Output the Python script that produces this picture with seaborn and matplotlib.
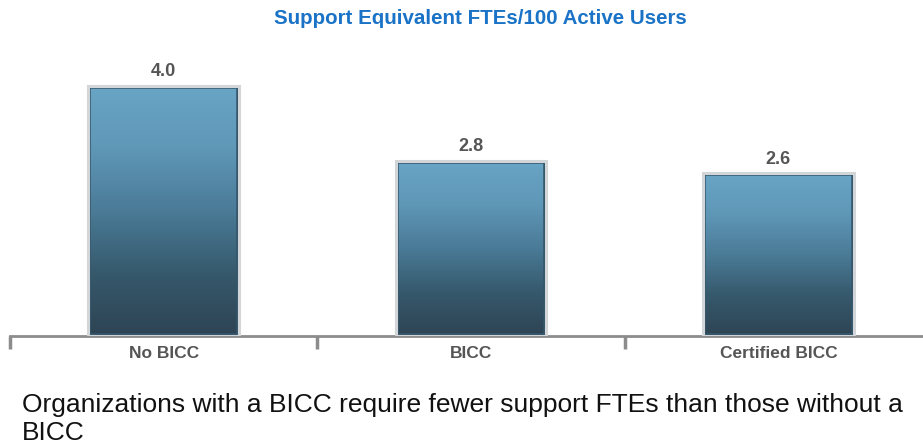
import numpy as np
import pandas as pd
import matplotlib
matplotlib.use("Agg")
import matplotlib.pyplot as plt
from matplotlib.colors import LinearSegmentedColormap
from matplotlib.patches import Rectangle
import seaborn as sns

# chart data
categories = ["No BICC", "BICC", "Certified BICC"]
ftes_per_100 = [4.0, 2.8, 2.6]
title = "Support Equivalent FTEs/100 Active Users"
caption_lines = ["Organizations with a BICC require fewer support FTEs than those without a",
                 "BICC"]

sns.set_style("white")
plt.rcParams['font.family'] = ['Liberation Sans', 'DejaVu Sans']

df = pd.DataFrame({"group": categories, "ftes": ftes_per_100})

fig = plt.figure(figsize=(9.23, 4.47), dpi=100)
ax = fig.add_axes([10 / 923, 111 / 447, 922 / 923, 288 / 447])

sns.barplot(data=df, x="group", y="ftes", order=categories, color="#4d7f9a",
            width=0.49, ax=ax, zorder=3)

# vertical blue gradient in each bar, light frame with a thin dark rim inside
grad = LinearSegmentedColormap.from_list(
    "bargrad", ["#2e4454", "#36596c", "#4a7b97", "#5f97b7", "#69a5c5"])
ramp = np.linspace(0, 1, 256).reshape(-1, 1)
for bar in ax.patches:
    x0, y0 = bar.get_xy()
    w, h = bar.get_width(), bar.get_height()
    ax.imshow(ramp, cmap=grad, origin="lower", aspect="auto",
              extent=[x0, x0 + w, y0, y0 + h], zorder=2)
    rim = Rectangle((x0, y0), w, h, fill=False, edgecolor="#34566b",
                    linewidth=4, zorder=4)
    ax.add_patch(rim)
    rim.set_clip_path(bar)
    bar.set_facecolor("none")
    bar.set_edgecolor("#d3d6d8")
    bar.set_linewidth(2.2)
    bar.set_zorder(5)

ax.bar_label(ax.containers[0], fmt="%.1f", padding=4, fontsize=13,
             fontweight="bold", color="#555555")

ax.set_xlim(-0.5, 2.5)
ax.set_ylim(0, 4.6)
ax.set_xlabel("")
ax.set_ylabel("")
ax.set_yticks([])

for side in ["top", "right", "left"]:
    ax.spines[side].set_visible(False)
ax.spines["bottom"].set_color("#8c8c8c")
ax.spines["bottom"].set_linewidth(2)

ax.set_xticks(range(len(categories)))
ax.set_xticklabels(categories, fontsize=12.5, fontweight="bold", color="#555555")
ax.tick_params(axis="x", which="major", bottom=True, length=0, pad=7)
ax.set_xticks([-0.5, 0.5, 1.5, 2.5], minor=True)
ax.tick_params(axis="x", which="minor", bottom=True, direction="out", length=9,
               width=2.5, color="#8c8c8c")

fig.text(480 / 923, 1 - 18 / 447, title, ha="center", va="center", fontsize=14.8,
         fontweight="bold", color="#1a73c6")

fig.text(22 / 923, 1 - 412 / 447, caption_lines[0], ha="left", va="baseline",
         fontsize=19, color="#111111")
fig.text(22 / 923, 1 - 440 / 447, caption_lines[1], ha="left", va="baseline",
         fontsize=19, color="#111111")

fig.savefig("out.png", dpi=100)
